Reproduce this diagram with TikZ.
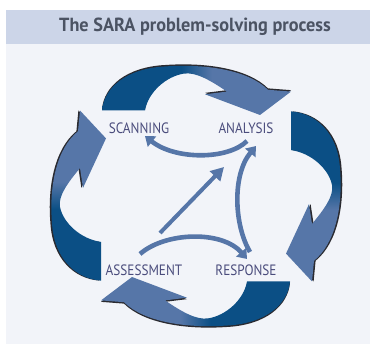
\documentclass[tikz,border=0pt]{standalone}
\usepackage{fontspec}
\setmainfont{PT Sans}
\newfontfamily\titlefont[FakeStretch=0.96]{PT Sans}
\newfontfamily\labelfont[FakeStretch=0.88]{PT Sans}
\usepackage{tikz}
\usetikzlibrary{arrows.meta}
\usepackage{xcolor}

\definecolor{saradark}{HTML}{0B4F85}
\definecolor{saralight}{HTML}{5676A8}
\definecolor{saraedge}{HTML}{2A2A30}
\definecolor{saratext}{HTML}{4A4C7C}
\definecolor{saratitle}{HTML}{4B5363}
\definecolor{barfill}{HTML}{CCD5E8}
\definecolor{panelfill}{HTML}{F2F4F9}

\pgfdeclarehorizontalshading{sarashade}{100bp}{color(0bp)=(saradark); color(46bp)=(saradark); color(54bp)=(saralight); color(100bp)=(saralight)}

\tikzset{
  stagelabel/.style={font=\labelfont\fontsize{15}{15}\selectfont, text=saratext, inner sep=0pt},
  innerarrow/.style={draw=saralight, line width=4.6pt, -{Triangle[width=13pt,length=9pt]}},
}

% outline of one outer arrow, drawn as the top one
\newcommand\saraband{(-94,-95) .. controls (-92,-120) and (-70,-142) .. (-30,-144)
  .. controls (10,-147) and (52,-140) .. (72,-118) -- (95,-116) -- (64,-90) -- (9,-113)
  -- (31,-116) .. controls (15,-128) and (0,-138) .. (-12,-136)
  .. controls (-30,-133) and (-48,-115) .. (-51,-95) -- cycle}
\newcommand\outerarrow[1]{%
  \begin{scope}[shift={(196,196)}, yscale=0.9, rotate=#1]
    \fill[saraedge, shift={(0,-1.6)}] \saraband;
    \shade[shading=sarashade, shading angle=#1] \saraband;
  \end{scope}}

\begin{document}
\begin{tikzpicture}[x=1pt, y=-1pt]
  \useasboundingbox (0,0) rectangle (370,344);

  % Panel and title bar
  \fill[panelfill] (6,44) rectangle (370,344);
  \fill[barfill] (6,10) rectangle (370,44);
  \node[font=\titlefont\bfseries\fontsize{19}{19}\selectfont, text=saratitle] (title) at (195,27) {The SARA problem-solving process};

  % Outer ring of arrows
  \outerarrow{0}
  \outerarrow{-90}
  \outerarrow{180}
  \outerarrow{90}

  % Stage labels
  \node[stagelabel] (scan) at (139,128) {SCANNING};
  \node[stagelabel] (anal) at (246,128) {ANALYSIS};
  \node[stagelabel] (assess) at (144,270) {ASSESSMENT};
  \node[stagelabel] (resp) at (246,270) {RESPONSE};

  % Ends of the inner arrows
  \coordinate (a1) at (247,141);
  \coordinate (a2) at (145,136);
  \coordinate (b1) at (250,252);
  \coordinate (b2) at (256,146);
  \coordinate (c1) at (140,254);
  \coordinate (c2) at (247,259);
  \coordinate (d1) at (160,233);
  \coordinate (d2) at (224,167);

  % Inner arrows
  \draw[innerarrow] (a1) .. controls (228,160) and (175,160) .. (a2);
  \draw[innerarrow] (b1) .. controls (234,225) and (232,175) .. (b2);
  \draw[innerarrow] (c1) .. controls (165,232) and (222,230) .. (c2);
  \draw[innerarrow, line width=4pt, -{Triangle[width=14pt,length=13pt]}] (d1) -- (d2);
\end{tikzpicture}
\end{document}
